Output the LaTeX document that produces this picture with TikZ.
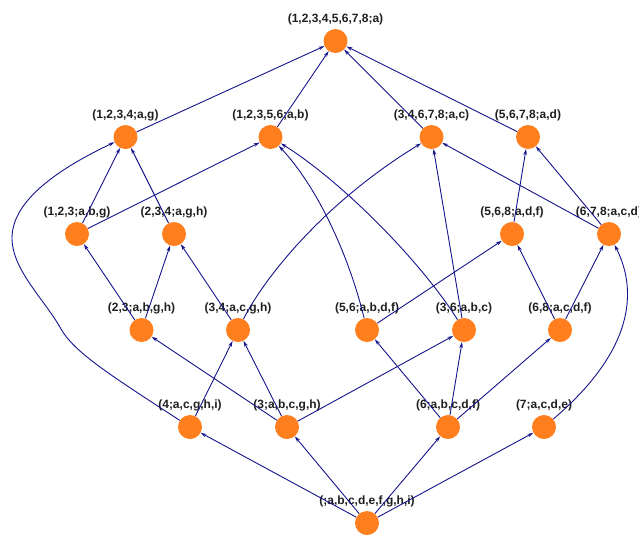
\documentclass[tikz,border=0pt]{standalone}
\usepackage{fontspec}
\setmainfont{Liberation Sans}
\usetikzlibrary{arrows.meta}
\definecolor{nodeorange}{HTML}{FF7F1E}
\definecolor{edgeblue}{HTML}{14148C}
\begin{document}
\begin{tikzpicture}[x=1pt,y=-1pt,
  vtx/.style={circle,fill=nodeorange,draw=none,minimum size=24pt,inner sep=0pt,
    label={[font=\fontsize{12}{13}\selectfont\bfseries,text=black!88,inner sep=0pt,yshift=3.5pt]above:#1}},
  edge/.style={draw=edgeblue,line width=0.9pt,-{Stealth[length=6pt,width=3.6pt]}}]
\useasboundingbox (0,0) rectangle (639,536);
% row 0
\node[vtx={(1,2,3,4,5,6,7,8;a)}] (top) at (335.5,41) {};
% row 1
\node[vtx={(1,2,3,4;a,g)}] (n1234) at (125.5,137) {};
\node[vtx={(1,2,3,5,6;a,b)}] (n12356) at (270.5,137) {};
\node[vtx={(3,4,6,7,8;a,c)}] (n34678) at (431.5,137) {};
\node[vtx={(5,6,7,8;a,d)}] (n5678) at (528,137) {};
% row 2
\node[vtx={(1,2,3;a,b,g)}] (n123) at (77,234) {};
\node[vtx={(2,3,4;a,g,h)}] (n234) at (174,234) {};
\node[vtx={(5,6,8;a,d,f)}] (n568) at (512,234) {};
\node[vtx={(6,7,8;a,c,d)}] (n678) at (609,234) {};
% row 3
\node[vtx={(2,3;a,b,g,h)}] (n23) at (141.5,330) {};
\node[vtx={(3,4;a,c,g,h)}] (n34) at (238,330) {};
\node[vtx={(5,6;a,b,d,f)}] (n56) at (367,330) {};
\node[vtx={(3,6;a,b,c)}] (n36) at (464,330) {};
\node[vtx={(6,8;a,c,d,f)}] (n68) at (560,330) {};
% row 4
\node[vtx={(4;a,c,g,h,i)}] (n4) at (190,427) {};
\node[vtx={(3;a,b,c,g,h)}] (n3) at (287,427) {};
\node[vtx={(6;a,b,c,d,f)}] (n6) at (448,427) {};
\node[vtx={(7;a,c,d,e)}] (n7) at (544,427) {};
% row 5
\node[vtx={(;a,b,c,d,e,f,g,h,i)}] (bot) at (367,523) {};
% straight edges
\foreach \a/\b in {n1234/top,n12356/top,n34678/top,n5678/top,
  n123/n1234,n234/n1234,n123/n12356,n678/n34678,n36/n34678,
  n568/n5678,n678/n5678,n23/n123,n23/n234,n34/n234,n56/n568,
  n68/n568,n68/n678,n3/n23,n4/n34,n3/n34,n3/n36,n6/n56,n6/n36,
  n6/n68,bot/n4,bot/n3,bot/n6,bot/n7}
  \path[edge] (\a) -- (\b);
% curved edges
\path[edge] (n4) .. controls (110,375) and (74,352) .. (61,329)
  .. controls (45,300) and (12,270) .. (12,238)
  .. controls (12,200) and (60,168) .. (n1234);
\path[edge] (n34) .. controls (262,282) and (320,205) .. (n34678);
\path[edge] (n56) .. controls (350,260) and (320,190) .. (n12356);
\path[edge] (n36) .. controls (420,260) and (340,180) .. (n12356);
\path[edge] (n7) .. controls (640,345) and (635,285) .. (n678);
\end{tikzpicture}
\end{document}
